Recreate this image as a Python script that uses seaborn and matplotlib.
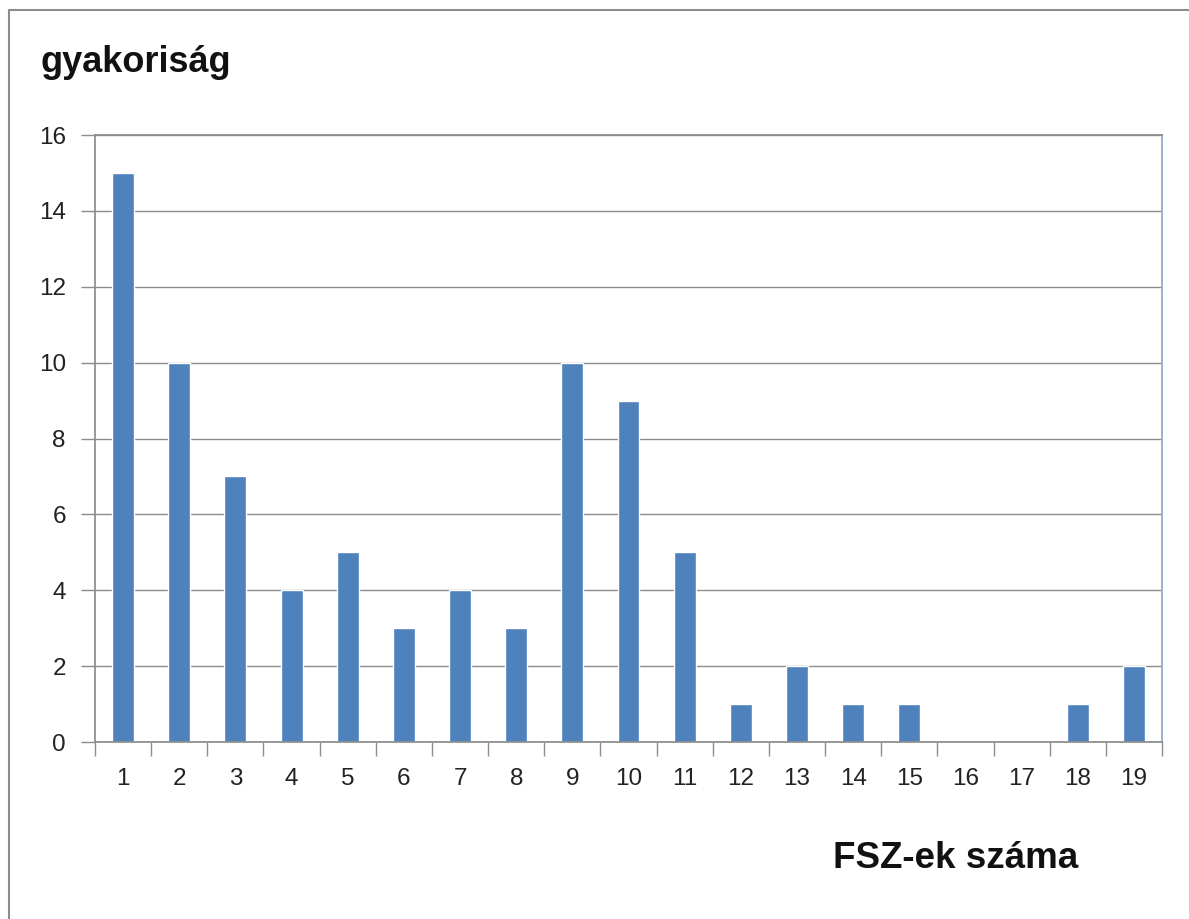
import matplotlib
matplotlib.use("Agg")
import matplotlib.pyplot as plt
import seaborn as sns
import pandas as pd
from matplotlib.lines import Line2D

# adatok (az ábráról leolvasva)
kategoriak = [str(i) for i in range(1, 20)]
gyakorisag = [15, 10, 7, 4, 5, 3, 4, 3, 10, 9, 5, 1, 2, 1, 1, 0, 0, 1, 2]
y_tickek = [0, 2, 4, 6, 8, 10, 12, 14, 16]

df = pd.DataFrame({"fsz": kategoriak, "db": gyakorisag})

sns.set_theme(style="white")
plt.rcParams["font.family"] = ["Liberation Sans", "DejaVu Sans"]

fig = plt.figure(figsize=(11.89, 9.19), dpi=100)
ax = fig.add_axes([0.0799, 0.1926, 0.8974, 0.6605])

sns.barplot(data=df, x="fsz", y="db", color="#4F81BD", saturation=1,
            width=0.39, ax=ax)

ax.set_ylim(0, 16)
ax.set_xlim(-0.5, len(kategoriak) - 0.5)
ax.set_yticks(y_tickek)
ax.yaxis.grid(True, color="#8C8C8C", linewidth=1)
ax.set_axisbelow(True)

for side in ["top", "right", "left", "bottom"]:
    ax.spines[side].set_visible(True)
ax.spines["top"].set_color("#8C8C8C")
ax.spines["right"].set_color("#8EA7C9")
ax.spines["left"].set_color("#8C8C8C")
ax.spines["bottom"].set_color("#8C8C8C")

# x tickek a kategóriák között
ax.set_xticks([i for i in range(len(kategoriak))])
ax.set_xticklabels(kategoriak)
ax.set_xticks([i - 0.5 for i in range(len(kategoriak) + 1)], minor=True)
ax.tick_params(axis="x", which="major", length=0, pad=19, labelsize=17.5, labelcolor="#222222")
ax.tick_params(axis="x", which="minor", bottom=True, length=10, width=1, color="#8C8C8C", direction="out")
ax.tick_params(axis="y", left=True, length=10, width=1, color="#8C8C8C", pad=11, labelsize=17.5, labelcolor="#222222")

ax.set_xlabel("")
ax.set_ylabel("")

fig.text(40 / 1189, 1 - 62 / 919, "gyakoriság", fontsize=26, fontweight="bold",
         ha="left", va="center", color="#111111")
fig.text(833 / 1189, 1 - 858 / 919, "FSZ-ek száma", fontsize=26.5, fontweight="bold",
         ha="left", va="center", color="#111111")

# külső keret (csak felül és balra látszik)
fig.lines.append(Line2D([9 / 1189, 9 / 1189, 1], [0, 1 - 10 / 919, 1 - 10 / 919],
                        transform=fig.transFigure, color="#8C8C8C", linewidth=1.5))

fig.savefig("out.png", dpi=100)
